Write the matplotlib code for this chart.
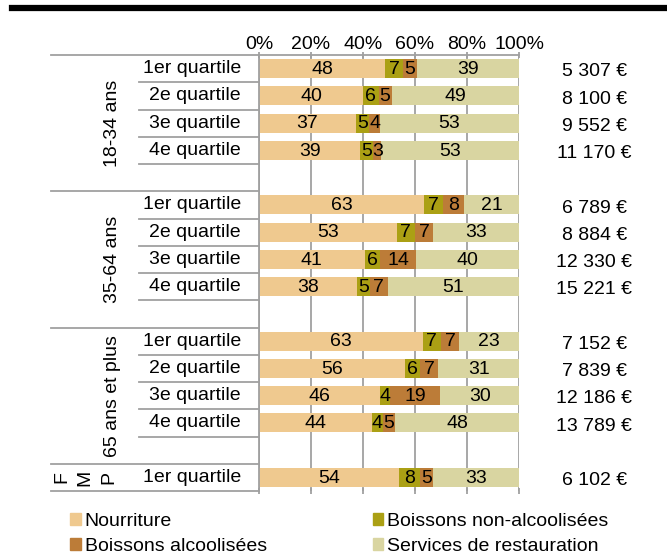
import numpy as np
import matplotlib
matplotlib.use('Agg')
import matplotlib.pyplot as plt
from matplotlib.patches import Patch
from matplotlib.lines import Line2D
import matplotlib.transforms as mtransforms

plt.rcParams['font.family'] = ['Liberation Sans', 'DejaVu Sans']

# data
groups = ['18-34 ans', '35-64 ans', '65 ans et plus', 'FMP']
quartiles = ['1er quartile', '2e quartile', '3e quartile', '4e quartile']
n_quart = [4, 4, 4, 1]
series = ['Nourriture', 'Boissons non-alcoolisées', 'Boissons alcoolisées', 'Services de restauration']
nourriture = [48, 40, 37, 39, 63, 53, 41, 38, 63, 56, 46, 44, 54]
boissons_na = [7, 6, 5, 5, 7, 7, 6, 5, 7, 6, 4, 4, 8]
boissons_alc = [5, 5, 4, 3, 8, 7, 14, 7, 7, 7, 19, 5, 5]
restauration = [39, 49, 53, 53, 21, 33, 40, 51, 23, 31, 30, 48, 33]
depense = ['5 307 €', '8 100 €', '9 552 €', '11 170 €',
           '6 789 €', '8 884 €', '12 330 €', '15 221 €',
           '7 152 €', '7 839 €', '12 186 €', '13 789 €',
           '6 102 €']

colors = ['#EFC98F', '#ABA014', '#BC7C38', '#D9D5A1']
grid_col = '#A0A0A0'
fs = 14

vals = np.array([nourriture, boissons_na, boissons_alc, restauration], dtype=float)
pct = vals / vals.sum(axis=0) * 100

# slot positions: each group has 5 slots (4 quartiles + blank), last group 1 slot
ypos = []
group_bounds = [-0.5]
slot = 0
for g, n in enumerate(n_quart):
    for q in range(n):
        ypos.append(slot + q)
    slot += n + 1 if g < len(n_quart) - 1 else n
    group_bounds.append(slot - 0.5)
ypos = np.array(ypos)
n_slots = slot

fig = plt.figure(figsize=(6.67, 5.55), dpi=100)
ax = fig.add_axes([259 / 667, 1 - 491 / 555, 260 / 667, 436 / 555])

left = np.zeros(len(ypos))
for i in range(4):
    ax.barh(ypos, pct[i], left=left, height=0.7, color=colors[i], label=series[i], zorder=2)
    for y, l, w, v in zip(ypos, left, pct[i], vals[i]):
        ax.text(l + w / 2, y + 0.03, f'{int(v)}', ha='center', va='center', fontsize=fs, zorder=3)
    left += pct[i]

ax.set_xlim(0, 100)
ax.set_ylim(n_slots - 0.5, -0.5)
ax.set_xticks([0, 20, 40, 60, 80, 100])
ax.set_xticklabels(['0%', '20%', '40%', '60%', '80%', '100%'], fontsize=fs)
ax.xaxis.tick_top()
ax.tick_params(axis='x', which='both', top=True, bottom=True, direction='inout',
               length=5, color=grid_col, width=1.3, pad=-1)
ax.set_yticks([])
ax.grid(axis='x', color=grid_col, linewidth=1.3, zorder=0)
ax.set_axisbelow(True)
for s in ['right', 'bottom']:
    ax.spines[s].set_visible(False)
for s in ['left', 'top']:
    ax.spines[s].set_color(grid_col)
    ax.spines[s].set_linewidth(1.3)

# category table on the left
trans = mtransforms.blended_transform_factory(ax.transAxes, ax.transData)
x_group = (51 - 259) / 260
x_quart = (139 - 259) / 260
for b in group_bounds:
    ax.plot([x_group, 0], [b, b], color=grid_col, lw=1.3, transform=trans, clip_on=False)
start = 0
for g, n in enumerate(n_quart):
    if n > 1:
        for k in range(1, n + 1):
            b = start + k - 0.5
            ax.plot([x_quart, 0], [b, b], color=grid_col, lw=1.3, transform=trans, clip_on=False)
    for q in range(n):
        ax.text(-0.07, start + q, quartiles[q], ha='right', va='center', fontsize=fs, transform=trans)
    gy = (group_bounds[g] + group_bounds[g + 1]) / 2
    if g < len(n_quart) - 1:
        ax.text(-0.565, gy, groups[g], rotation=90, ha='center', va='center', fontsize=fs,
                transform=trans)
    else:
        # letters stacked as columns, each glyph turned
        for k, ch in enumerate(groups[g]):
            ax.text(-0.76 + k * 0.092, gy, ch, rotation=90, ha='center', va='center',
                    fontsize=fs, transform=trans)
    start += n + 1

# spending labels on the right
for y, txt in zip(ypos, depense):
    ax.text(1.29, y + 0.12, txt, ha='center', va='center', fontsize=fs, transform=trans)

# thick black rule at the top
fig.add_artist(Line2D([12 / 667, 1], [1 - 7.5 / 555, 1 - 7.5 / 555], color='black', lw=4.5))

handles = [Patch(color=colors[i]) for i in [0, 2, 1, 3]]
labels = [series[i] for i in [0, 2, 1, 3]]
fig.legend(handles, labels, loc='upper left', bbox_to_anchor=(70 / 667, 1 - 513 / 555),
           ncol=2, frameon=False, fontsize=fs, handlelength=0.55, handleheight=0.55,
           handletextpad=0.2, columnspacing=5.45, labelspacing=0.4, borderpad=0, borderaxespad=0)

fig.savefig('out.png', dpi=100)
